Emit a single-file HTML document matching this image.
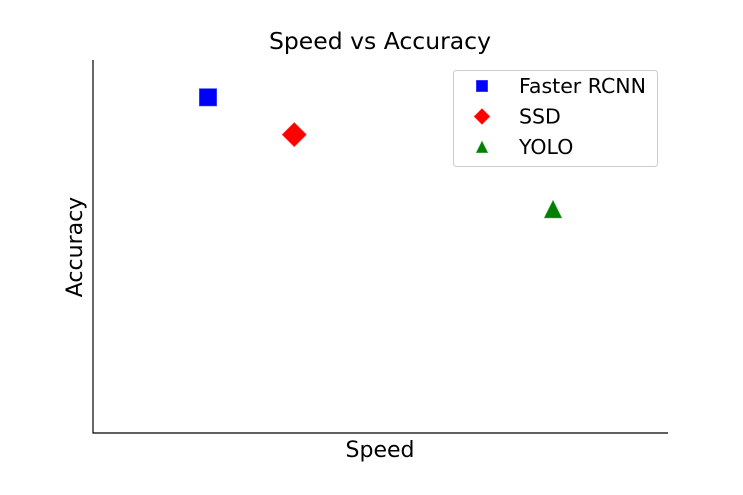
<!DOCTYPE html>
<html><head><meta charset="utf-8"><style>
body{margin:0;background:#fff;}
svg{display:block;font-family:"DejaVu Sans","Liberation Sans",sans-serif;}
</style></head><body>
<svg width="743" height="495">
<text x="380" y="49" font-size="23.5" text-anchor="middle">Speed vs Accuracy</text>
<line x1="93" y1="60" x2="93" y2="433.5" stroke="#000" stroke-width="1.2"/>
<line x1="92.5" y1="433" x2="668" y2="433" stroke="#000" stroke-width="1.2"/>
<text x="380" y="457" font-size="22" text-anchor="middle">Speed</text>
<text x="82" y="247" font-size="22" text-anchor="middle" transform="rotate(-90 82 247)">Accuracy</text>
<g id="marks"></g>
<g>
<rect x="453.5" y="70.5" width="204" height="96" rx="3" fill="#fff" stroke="#ccc"/>
<g id="legend-items"></g>
</g>
</svg>
<script>
const models = ["Faster RCNN", "SSD", "YOLO"];
const speed = [2, 3.5, 8];
const accuracy = [9, 8, 6];
const colors = ["#0000ff", "#ff0000", "#008000"];
const shapes = ["square", "diamond", "triangle"];
const NS = "http://www.w3.org/2000/svg";
const xS = v => 93 + v / 10 * 575;
const yS = v => 433 - v / 10 * 373;
function shape(kind, cx, cy, s, color) {
  let el;
  if (kind === "square") {
    el = document.createElementNS(NS, "rect");
    el.setAttribute("x", cx - s / 2); el.setAttribute("y", cy - s / 2);
    el.setAttribute("width", s); el.setAttribute("height", s);
  } else if (kind === "diamond") {
    el = document.createElementNS(NS, "polygon");
    const h = s * 0.7;
    el.setAttribute("points", `${cx},${cy - h} ${cx + h},${cy} ${cx},${cy + h} ${cx - h},${cy}`);
  } else {
    el = document.createElementNS(NS, "polygon");
    const h = s / 2;
    el.setAttribute("points", `${cx},${cy - h} ${cx + h},${cy + h} ${cx - h},${cy + h}`);
  }
  el.setAttribute("fill", color);
  el.setAttribute("stroke", color);
  el.setAttribute("stroke-opacity", "0.6");
  return el;
}
const marks = document.getElementById("marks");
const leg = document.getElementById("legend-items");
models.forEach((m, i) => {
  const p = shape(shapes[i], xS(speed[i]), yS(accuracy[i]), 17, colors[i]);
  
  
  marks.appendChild(p);
  const ly = 86 + i * 30.5;
  const lm = shape(shapes[i], 482, ly, 11, colors[i]);
  
  
  leg.appendChild(lm);
  const t = document.createElementNS(NS, "text");
  t.setAttribute("x", 519); t.setAttribute("y", ly + 7);
  t.setAttribute("font-size", "20.5");
  t.textContent = m;
  
  
  leg.appendChild(t);
});
</script>
</body></html>
